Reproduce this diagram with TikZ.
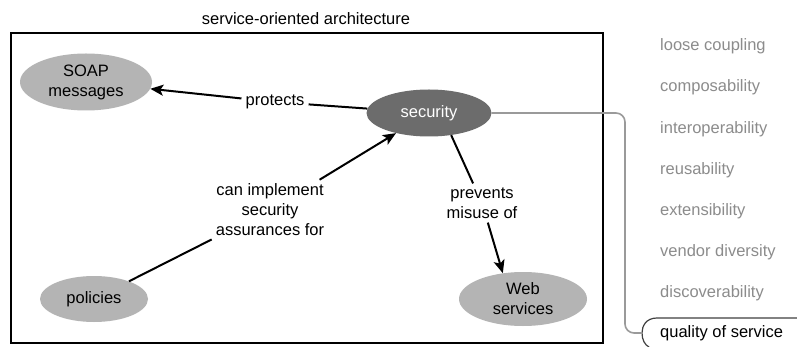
\documentclass[tikz,border=0pt]{standalone}
\usepackage{fontspec}
\setmainfont{Liberation Sans}
\usetikzlibrary{shapes.geometric,arrows.meta}
\definecolor{lightfill}{HTML}{B4B4B4}
\definecolor{darkfill}{HTML}{6C6C6C}
\definecolor{listgray}{HTML}{8C8C8C}
\definecolor{linkgray}{HTML}{9A9A9A}
\begin{document}
\begin{tikzpicture}[x=1pt,y=-1pt,
  every node/.style={font=\fontsize{16.5}{20}\selectfont},
  concept/.style={ellipse,fill=lightfill,inner sep=0pt,align=center,text=black},
  darkconcept/.style={ellipse,fill=darkfill,inner sep=0pt,align=center,text=white},
  lbl/.style={align=center,inner sep=4pt,text=black},
  rel/.style={line width=2pt,black},
  relarrow/.style={rel,-{Stealth[length=13pt,width=11pt,inset=3pt]}},
  quality/.style={anchor=west,text=listgray,inner sep=0pt},
  link/.style={draw=linkgray,line width=1.6pt,rounded corners=9pt}
]
\useasboundingbox (0,0) rectangle (797,347);
\fill[white] (0,0) rectangle (797,347);

% frame and title
\draw[line width=2pt] (11,33) rectangle (603,343);
\node (title) at (306,19) {service-oriented architecture};

% concepts
\node[concept, minimum width=132pt, minimum height=57pt] (soap) at (86,82) {SOAP\\messages};
\node[darkconcept, minimum width=125pt, minimum height=47pt] (sec) at (429,113) {security};
\node[concept, minimum width=108pt, minimum height=46pt] (pol) at (94,299) {policies};
\node[concept, minimum width=128pt, minimum height=54pt] (web) at (523,299) {Web\\services};

% relation labels
\node[lbl] (prot) at (275,102) {protects};
\node[lbl] (impl) at (270,210) {can implement\\security\\assurances for};
\node[lbl] (prev) at (482,203) {prevents\\misuse of};

% relations
\draw[rel] (sec) -- (prot);
\draw[relarrow] (prot) -- (soap);
\draw[rel] (pol) -- (impl);
\draw[relarrow] (impl) -- (sec);
\draw[rel] (sec.-45) -- (prev);
\draw[relarrow] (prev) -- (web.128);

% qualities list
\node[quality] (q1) at (660,46) {loose coupling};
\node[quality] (q2) at (660,87) {composability};
\node[quality] (q3) at (660,129) {interoperability};
\node[quality] (q4) at (660,170) {reusability};
\node[quality] (q5) at (660,211) {extensibility};
\node[quality] (q6) at (660,252) {vendor diversity};
\node[quality] (q7) at (660,293) {discoverability};
\node[quality,text=black] (q8) at (660,333) {quality of service};

% highlight bracket for quality of service
\draw[line width=1.2pt,black!75] (797,318) -- (657,318) .. controls (646,318) and (642,326) .. (642,333) .. controls (642,340) and (645,345) .. (649,347);
\coordinate (qosin) at (642,333);
\draw[link] (sec.east) -- (625,113) -- (625,333) -- (qosin);
\end{tikzpicture}
\end{document}
